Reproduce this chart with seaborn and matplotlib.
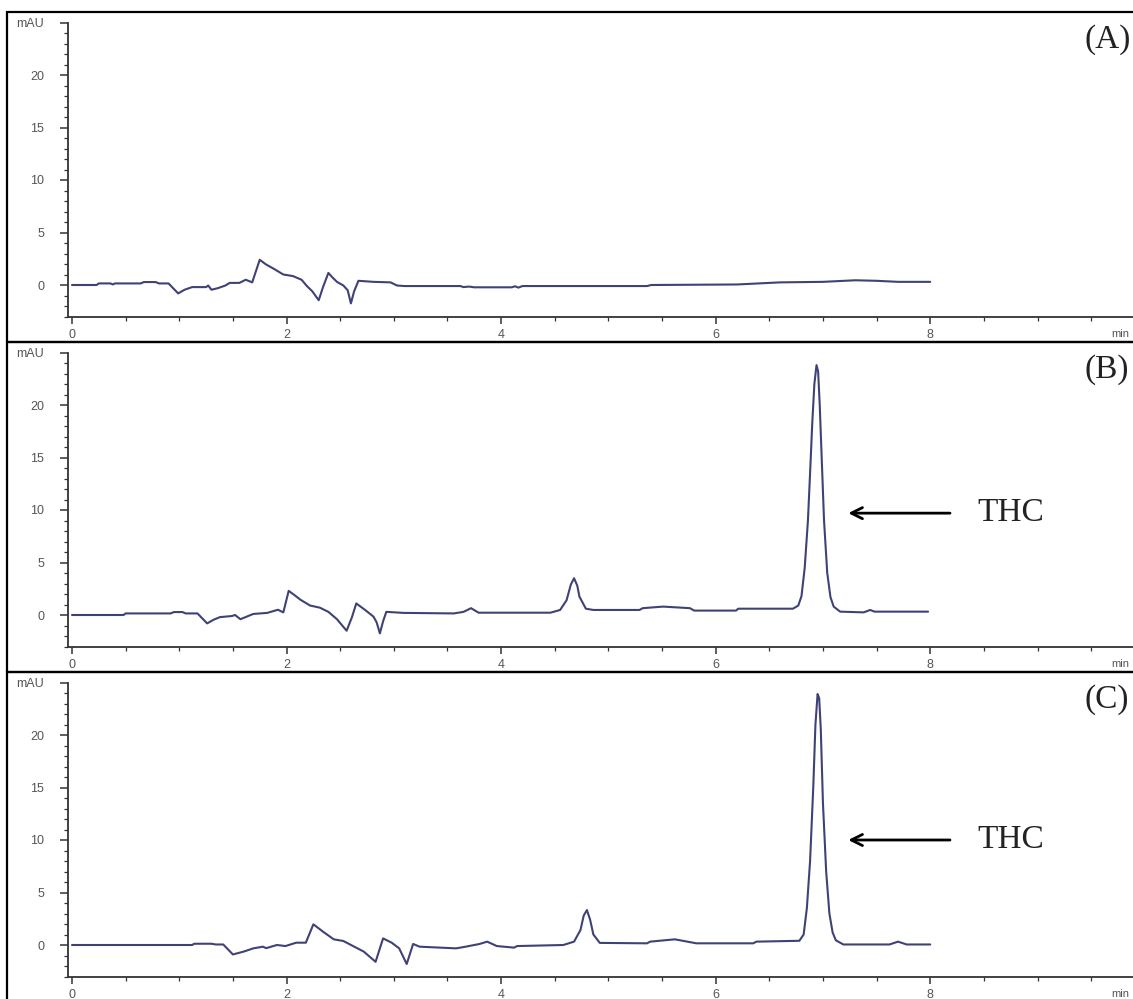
import matplotlib
matplotlib.use("Agg")
import matplotlib.pyplot as plt
import matplotlib.transforms as mtransforms
from matplotlib.patches import Rectangle
from matplotlib.ticker import MultipleLocator
import seaborn as sns

# retention time (min) / absorbance (mAU)
time_a = [0.00, 0.23, 0.25, 0.36, 0.38, 0.40, 0.64, 0.67, 0.78, 0.81, 0.90, 0.99, 1.05, 1.12,
          1.25, 1.27, 1.30, 1.36, 1.43, 1.47, 1.56, 1.62, 1.68, 1.75, 1.81, 1.88, 1.97, 2.06,
          2.14, 2.19, 2.24, 2.30, 2.34, 2.39, 2.43, 2.47, 2.53, 2.57, 2.60, 2.63, 2.67, 2.81,
          2.97, 3.03, 3.10, 3.62, 3.65, 3.70, 3.75, 4.10, 4.13, 4.16, 4.20, 5.36, 5.40, 6.20,
          6.60, 7.00, 7.30, 7.50, 7.70, 8.00]
signal_a = [0.0, 0.0, 0.15, 0.15, 0.05, 0.15, 0.15, 0.28, 0.28, 0.15, 0.15, -0.8, -0.45, -0.2,
            -0.2, -0.05, -0.45, -0.3, -0.05, 0.2, 0.2, 0.5, 0.25, 2.4, 1.95, 1.55, 1.0, 0.85,
            0.5, -0.1, -0.6, -1.45, -0.2, 1.15, 0.7, 0.3, -0.05, -0.5, -1.75, -0.6, 0.4, 0.3,
            0.25, -0.05, -0.1, -0.1, -0.2, -0.15, -0.22, -0.22, -0.12, -0.25, -0.1, -0.1, 0.0, 0.05,
            0.25, 0.3, 0.45, 0.4, 0.3, 0.3]

time_b = [0.00, 0.48, 0.50, 0.92, 0.95, 1.03, 1.06, 1.17, 1.26, 1.32, 1.38, 1.49, 1.52, 1.57,
          1.63, 1.69, 1.82, 1.92, 1.97, 2.02, 2.08, 2.13, 2.22, 2.31, 2.39, 2.47, 2.56, 2.61,
          2.65, 2.73, 2.81, 2.84, 2.87, 2.90, 2.93, 3.09, 3.56, 3.65, 3.72, 3.79, 4.46, 4.55,
          4.61, 4.65, 4.68, 4.71, 4.73, 4.79, 4.86, 5.29, 5.32, 5.51, 5.76, 5.80, 6.19, 6.21,
          6.72, 6.77, 6.80, 6.83, 6.86, 6.88, 6.90, 6.92, 6.94, 6.955, 6.97, 6.99, 7.01, 7.04,
          7.07, 7.10, 7.16, 7.38, 7.44, 7.48, 7.98]
signal_b = [0.0, 0.0, 0.15, 0.15, 0.28, 0.28, 0.15, 0.15, -0.8, -0.45, -0.2, -0.1, 0.0, -0.4,
            -0.15, 0.1, 0.2, 0.5, 0.25, 2.3, 1.85, 1.45, 0.9, 0.7, 0.3, -0.4, -1.5, -0.2,
            1.1, 0.5, -0.15, -0.7, -1.75, -0.6, 0.3, 0.2, 0.15, 0.3, 0.65, 0.22, 0.22, 0.48,
            1.4, 2.9, 3.5, 2.8, 1.75, 0.6, 0.48, 0.48, 0.65, 0.8, 0.65, 0.42, 0.42, 0.6,
            0.6, 0.9, 1.8, 4.5, 9.0, 13.5, 18.2, 22.0, 23.8, 23.2, 20.0, 14.5, 9.0, 4.0,
            1.7, 0.8, 0.32, 0.25, 0.48, 0.32, 0.32]

time_c = [0.00, 1.12, 1.14, 1.30, 1.34, 1.41, 1.50, 1.60, 1.69, 1.78, 1.81, 1.91, 1.99, 2.09,
          2.18, 2.25, 2.34, 2.44, 2.53, 2.62, 2.72, 2.83, 2.90, 2.98, 3.05, 3.12, 3.18, 3.24,
          3.58, 3.67, 3.80, 3.87, 3.96, 4.12, 4.15, 4.58, 4.68, 4.74, 4.77, 4.80, 4.83, 4.86,
          4.92, 5.36, 5.39, 5.62, 5.82, 6.35, 6.38, 6.78, 6.82, 6.85, 6.88, 6.91, 6.93, 6.95,
          6.965, 6.98, 7.00, 7.03, 7.06, 7.09, 7.12, 7.19, 7.62, 7.70, 7.78, 8.00]
signal_c = [0.0, 0.0, 0.12, 0.12, 0.05, 0.05, -0.9, -0.63, -0.32, -0.16, -0.3, 0.0, -0.1, 0.22,
            0.22, 1.97, 1.27, 0.54, 0.38, -0.1, -0.63, -1.6, 0.63, 0.22, -0.32, -1.81, 0.1, -0.16,
            -0.32, -0.16, 0.1, 0.32, -0.1, -0.25, -0.1, 0.0, 0.32, 1.43, 2.8, 3.33, 2.4, 1.0,
            0.2, 0.16, 0.32, 0.54, 0.16, 0.16, 0.32, 0.4, 1.0, 3.5, 8.0, 15.1, 21.0, 23.9,
            23.5, 20.5, 13.5, 7.0, 3.0, 1.2, 0.45, 0.05, 0.05, 0.32, 0.05, 0.05]

panel_names = ["(A)", "(B)", "(C)"]
thc_level = [None, 9.7, 10.0]
y_ticks = [0, 5, 10, 15, 20, 25]
y_tick_labels = ["0", "5", "10", "15", "20", "mAU"]
x_ticks = [0, 2, 4, 6, 8]

sns.set_style("white")
plt.rcParams["font.family"] = ["Liberation Sans", "DejaVu Sans"]

W, H = 1133, 999
fig = plt.figure(figsize=(W / 100, H / 100), dpi=100)
trace_color = "#3f4275"

traces = [(time_a, signal_a), (time_b, signal_b), (time_c, signal_c)]
for i, (t, s) in enumerate(traces):
    top = 12 + 330 * i
    # frame around each chromatogram
    fig.add_artist(Rectangle((7 / W, 1 - (top + 330) / H), 1.2, 330 / H,
                             transform=fig.transFigure, fill=False,
                             edgecolor="black", lw=1.6, clip_on=False))
    ax = fig.add_axes([68 / W, 1 - (top + 304.5) / H, (W - 68) / W, 294 / H])
    ax.patch.set_alpha(0)
    sns.lineplot(x=t, y=s, ax=ax, color=trace_color, lw=1.5, sort=False, estimator=None)

    ax.set_xlim(-0.037, 9.89)
    ax.set_ylim(-3, 25)
    ax.set_yticks(y_ticks)
    ax.set_yticklabels(y_tick_labels)
    ax.set_xticks(x_ticks)
    ax.xaxis.set_minor_locator(MultipleLocator(0.5))
    ax.yaxis.set_minor_locator(MultipleLocator(1))
    for side in ["top", "right"]:
        ax.spines[side].set_visible(False)
    for side in ["left", "bottom"]:
        ax.spines[side].set_color("#333333")
        ax.spines[side].set_linewidth(1.3)
    ax.tick_params(axis="y", which="major", length=6, width=1.1, pad=11,
                   labelsize=9, labelcolor="#555555", color="#333333", left=True)
    ax.tick_params(axis="y", which="minor", length=3, width=0.9, color="#333333", left=True)
    ax.tick_params(axis="x", which="major", length=5, width=1.1, pad=4,
                   labelsize=9, labelcolor="#555555", color="#333333", bottom=True)
    ax.tick_params(axis="x", which="minor", length=3, width=0.9, color="#333333", bottom=True)
    ax.set_xlabel("")
    ax.set_ylabel("")

    # axis unit at the end of the time axis
    trans = mtransforms.blended_transform_factory(ax.transData, ax.transAxes)
    ax.text(9.69, -0.058, "min", transform=trans, ha="left", va="center",
            fontsize=8, color="#555555", clip_on=False)

    fig.text(1085 / W, 1 - (top + 28) / H, panel_names[i], ha="left", va="center",
             fontsize=24, family="Liberation Serif", color="#222222")

    if thc_level[i] is not None:
        ax.annotate("", xy=(7.21, thc_level[i]), xytext=(8.21, thc_level[i]),
                    arrowprops=dict(arrowstyle="->,head_length=0.8,head_width=0.4",
                                    lw=2, color="black"))
        ax.text(8.44, thc_level[i], "THC", ha="left", va="center",
                fontsize=24, family="Liberation Serif", color="#222222")

fig.savefig("out.png", dpi=100)
